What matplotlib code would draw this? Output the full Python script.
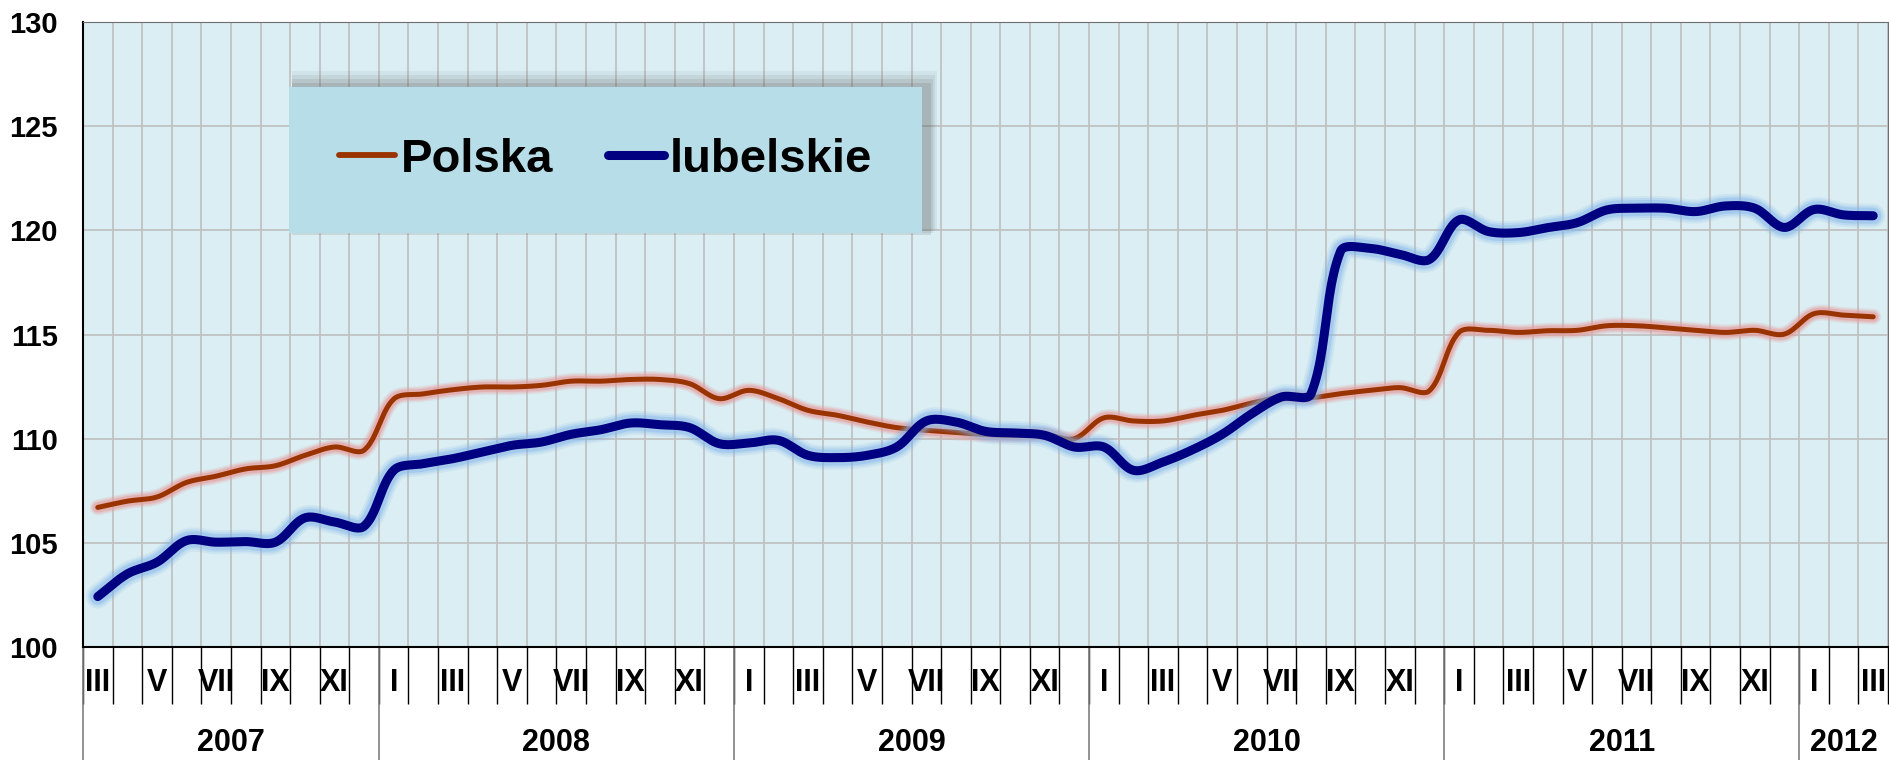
import numpy as np
import matplotlib
matplotlib.use("Agg")
import matplotlib.pyplot as plt
import matplotlib.transforms as mtransforms
from matplotlib.patches import Rectangle
from matplotlib.lines import Line2D

plt.rcParams['font.family'] = ['Liberation Sans', 'DejaVu Sans']
plt.rcParams['font.weight'] = 'bold'

# ---------------- donnees ----------------
years = ['2007', '2008', '2009', '2010', '2011', '2012']
months_per_year = [10, 12, 12, 12, 12, 3]
roman = ['I', 'II', 'III', 'IV', 'V', 'VI', 'VII', 'VIII', 'IX', 'X', 'XI', 'XII']
# etiquettes mensuelles : III 2007 ... III 2012
month_labels = roman[2:] + roman * 4 + roman[:3]

polska = [106.7, 107.0, 107.2, 107.9, 108.2, 108.55, 108.7, 109.2, 109.6, 109.45,
          111.9, 112.15, 112.35, 112.48, 112.48, 112.56, 112.76, 112.76, 112.84, 112.84, 112.64, 111.92,
          112.32, 111.92, 111.36, 111.12, 110.8, 110.53, 110.4, 110.3, 110.2, 110.16, 110.21, 110.0,
          111.0, 110.85, 110.85, 111.12, 111.36, 111.71, 112.0, 111.97, 112.16, 112.32, 112.45, 112.3,
          115.1, 115.2, 115.1, 115.18, 115.2, 115.42, 115.42, 115.32, 115.2, 115.1, 115.2, 115.02,
          116.0, 115.93, 115.85]

lubelskie = [102.42, 103.51, 104.07, 105.11, 105.03, 105.06, 105.03, 106.2, 106.0, 105.8,
             108.48, 108.8, 109.04, 109.36, 109.68, 109.84, 110.21, 110.43, 110.75, 110.67, 110.53, 109.76,
             109.79, 109.92, 109.2, 109.09, 109.2, 109.6, 110.85, 110.8, 110.35, 110.27, 110.16, 109.6,
             109.6, 108.48, 108.88, 109.47, 110.21, 111.2, 112.0, 112.15, 119.0, 119.13, 118.85, 118.6,
             120.5, 119.94, 119.89, 120.13, 120.37, 120.98, 121.06, 121.06, 120.9, 121.17, 121.06, 120.14,
             121.0, 120.74, 120.7]

n = len(month_labels)
largeur_px, hauteur_px = 1805, 625


############################### lissage facon Excel (Bezier, tangentes ponderees)
def lisser(y, n_pts=24):
    # on travaille en pixels pour que les tangentes se comportent comme dans Excel
    sx = largeur_px / n
    sy = hauteur_px / 30.0
    P = np.column_stack([np.arange(len(y)) * sx, np.asarray(y, float) * sy])
    m = len(P)
    avant = np.zeros_like(P)
    apres = np.zeros_like(P)
    for i in range(m):
        pa = P[max(i - 1, 0)]
        pb = P[min(i + 1, m - 1)]
        d = pb - pa
        la = np.linalg.norm(P[i] - pa)
        lb = np.linalg.norm(pb - P[i])
        tot = la + lb if la + lb > 0 else 1
        avant[i] = P[i] - d * (la / tot) / 3
        apres[i] = P[i] + d * (lb / tot) / 3
    t = np.linspace(0, 1, n_pts, endpoint=False)[:, None]
    seg = []
    for i in range(m - 1):
        p1, c1, c2, p2 = P[i], apres[i], avant[i + 1], P[i + 1]
        seg.append((1 - t) ** 3 * p1 + 3 * (1 - t) ** 2 * t * c1 + 3 * (1 - t) * t ** 2 * c2 + t ** 3 * p2)
    seg.append(P[-1:])
    c = np.vstack(seg)
    return c[:, 0] / sx, c[:, 1] / sy


fig = plt.figure(figsize=(18.9, 7.6), dpi=100)
ax = fig.add_axes([83 / 1890, 1 - 647 / 760, largeur_px / 1890, hauteur_px / 760])
ax.set_facecolor('#DAEEF3')

ax.set_xlim(-0.5, n - 0.5)
ax.set_ylim(100, 130)
ax.set_yticks(np.arange(100, 131, 5))
ax.tick_params(axis='y', length=0, pad=18, labelsize=21)
for lab in ax.get_yticklabels():
    lab.set_fontweight('bold')

# grille
ax.set_xticks(np.arange(-0.5, n, 1), minor=True)
ax.set_xticks([])
ax.grid(which='minor', axis='x', color='#BFBFBF', linewidth=1.2)
ax.grid(which='major', axis='y', color='#BFBFBF', linewidth=1.2)
ax.tick_params(axis='x', which='minor', length=41, width=1, color='black', direction='out')
ax.set_axisbelow(True)

for s in ['left', 'bottom']:
    ax.spines[s].set_color('black')
    ax.spines[s].set_linewidth(1.5)
ax.spines['top'].set_color('#6E6E6E')
ax.spines['right'].set_color('#6E6E6E')

# etiquettes mois et annees
trans = mtransforms.blended_transform_factory(ax.transData, ax.transAxes)
for i in range(0, n, 2):
    ax.text(i, -0.058, month_labels[i], transform=trans, ha='center', va='center',
            fontsize=22, fontweight='bold')

debut = 0
bornes = [0]
for annee, nb in zip(years, months_per_year):
    centre = debut + nb / 2 - 0.5
    ax.text(centre, -0.154, annee, transform=trans, ha='center', va='center',
            fontsize=22, fontweight='bold')
    debut += nb
    bornes.append(debut)
for b in bornes[:-1]:
    ax.plot([b - 0.5, b - 0.5], [0, -0.19], transform=trans, color='#7F7F7F',
            linewidth=1.2, clip_on=False)

# courbes avec halo
xs_p, ys_p = lisser(polska)
xs_l, ys_l = lisser(lubelskie)
for lw, a in [(16, 0.18), (13, 0.3), (10, 0.5)]:
    ax.plot(xs_p, ys_p, color='#E79A9A', linewidth=lw * 0.72, alpha=a, solid_capstyle='round')
ax.plot(xs_p, ys_p, color='#993300', linewidth=3.6, solid_capstyle='round')
for lw, a in [(24, 0.14), (20, 0.22), (16, 0.38)]:
    ax.plot(xs_l, ys_l, color='#7FB2EA', linewidth=lw * 0.72, alpha=a, solid_capstyle='round')
ax.plot(xs_l, ys_l, color='#000080', linewidth=6.5, solid_capstyle='round')

# legende : cadre + ombre
x0, y0, w, h = 289 / 1890, 1 - 233 / 760, 633 / 1890, 146 / 760
for k, a in enumerate([0.06, 0.08, 0.1, 0.12]):
    d = (4 - k) * 2
    fig.patches.append(Rectangle((x0 + 3 / 1890, y0 + (d - 4) / 760),
                                 w + (d + 4) / 1890, h + (d + 4) / 760,
                                 transform=fig.transFigure, facecolor='#404040',
                                 edgecolor='none', alpha=a, zorder=5))
fig.patches.append(Rectangle((x0, y0), w, h, transform=fig.transFigure,
                             facecolor='#B7DDE8', edgecolor='none', zorder=6))
handles = [Line2D([], [], color='#993300', linewidth=4.2, solid_capstyle='round'),
           Line2D([], [], color='#000080', linewidth=6.5, solid_capstyle='round')]
leg = fig.legend(handles, ['Polska', 'lubelskie'], loc='center',
                 bbox_to_anchor=(x0 + w / 2, y0 + h / 2), bbox_transform=fig.transFigure,
                 ncol=2, frameon=False, prop={'size': 34, 'weight': 'bold'},
                 handlelength=1.2, handletextpad=0.12, columnspacing=1.15)
leg.set_zorder(7)

fig.savefig('out.png', dpi=100)
